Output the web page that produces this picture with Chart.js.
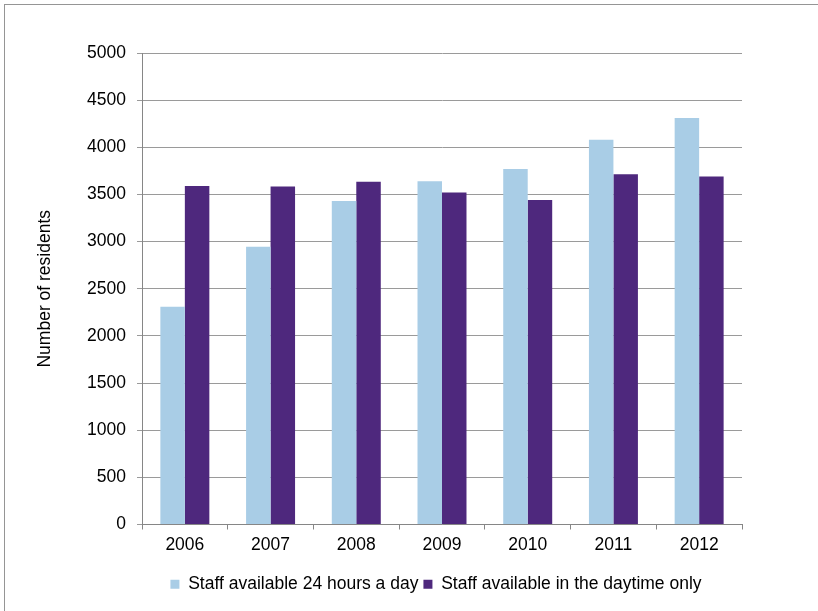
<!DOCTYPE html>
<html>
<head>
<meta charset="utf-8">
<script src="https://cdn.jsdelivr.net/npm/chart.js@4/dist/chart.umd.min.js"></script>
<style>
  html, body { margin: 0; padding: 0; background: #fff; }
  #wrap { width: 818px; height: 611px; position: relative; }
</style>
</head>
<body>
<div id="wrap"><canvas id="residentsChart" width="818" height="611"></canvas></div>
<script>
/* ====== data ====== */
const years = ['2006', '2007', '2008', '2009', '2010', '2011', '2012'];
const staff24h = [2310, 2945, 3430, 3640, 3770, 4080, 4310];
const staffDaytime = [3590, 3585, 3635, 3520, 3440, 3715, 3690];
const seriesNames = ['Staff available 24 hours a day', 'Staff available in the daytime only'];
const yTicks = [0, 500, 1000, 1500, 2000, 2500, 3000, 3500, 4000, 4500, 5000];

Chart.defaults.font.family = '"Liberation Sans", Arial, sans-serif';
Chart.defaults.font.size = 17.5;
Chart.defaults.color = '#000';

// thin frame round the whole chart, like the office export
const framePlugin = {
  id: 'frame',
  beforeDraw(chart) {
    const c = chart.ctx;
    c.save();
    c.strokeStyle = '#959595';
    c.lineWidth = 1;
    c.strokeRect(4.5, 4.5, 900, 800);
    c.restore();
  }
};

// legend sits centred under the plot, not under the whole canvas
const legendShift = {
  id: 'legendShift',
  afterLayout(chart) {
    const lg = chart.legend;
    if (!lg) return;
    const dx = 436 - (lg.left + lg.right) / 2;
    lg.left += dx;
    lg.right += dx;
  }
};

new Chart(document.getElementById('residentsChart'), {
  type: 'bar',
  data: {
    labels: years,
    datasets: [
      { label: seriesNames[0], data: staff24h, backgroundColor: '#a9cde6' },
      { label: seriesNames[1], data: staffDaytime, backgroundColor: '#4e287d' }
    ]
  },
  options: {
    responsive: false,
    animation: false,
    devicePixelRatio: 1,
    layout: { padding: { left: 0, top: 53, right: 76, bottom: 8 } },
    datasets: { bar: { barPercentage: 1, categoryPercentage: 1 / 1.75 } },
    plugins: {
      legend: {
        display: true,
        position: 'bottom',
        labels: { boxWidth: 9, boxHeight: 9, padding: 5, color: '#000' }
      },
      tooltip: { enabled: false }
    },
    scales: {
      x: {
        grid: { display: true, drawOnChartArea: false, drawTicks: true, tickLength: 5, color: '#868686', offset: true },
        border: { display: true, color: '#868686', width: 1 },
        ticks: { padding: 5, color: '#000' },
        afterFit(scale) { scale.height = 46; }
      },
      y: {
        min: 0,
        max: 5000,
        afterBuildTicks(scale) { scale.ticks = yTicks.map(v => ({ value: v })); },
        grid: { color: '#9a9a9a', tickLength: 5 },
        border: { display: true, color: '#868686', width: 1 },
        ticks: { padding: 11, color: '#000', callback: v => String(v) },
        title: {
          display: true,
          text: 'Number of residents',
          color: '#000',
          padding: { top: 35, bottom: 0 }
        },
        afterFit(scale) { scale.width = 142; }
      }
    }
  },
  plugins: [framePlugin, legendShift]
});
</script>
</body>
</html>
